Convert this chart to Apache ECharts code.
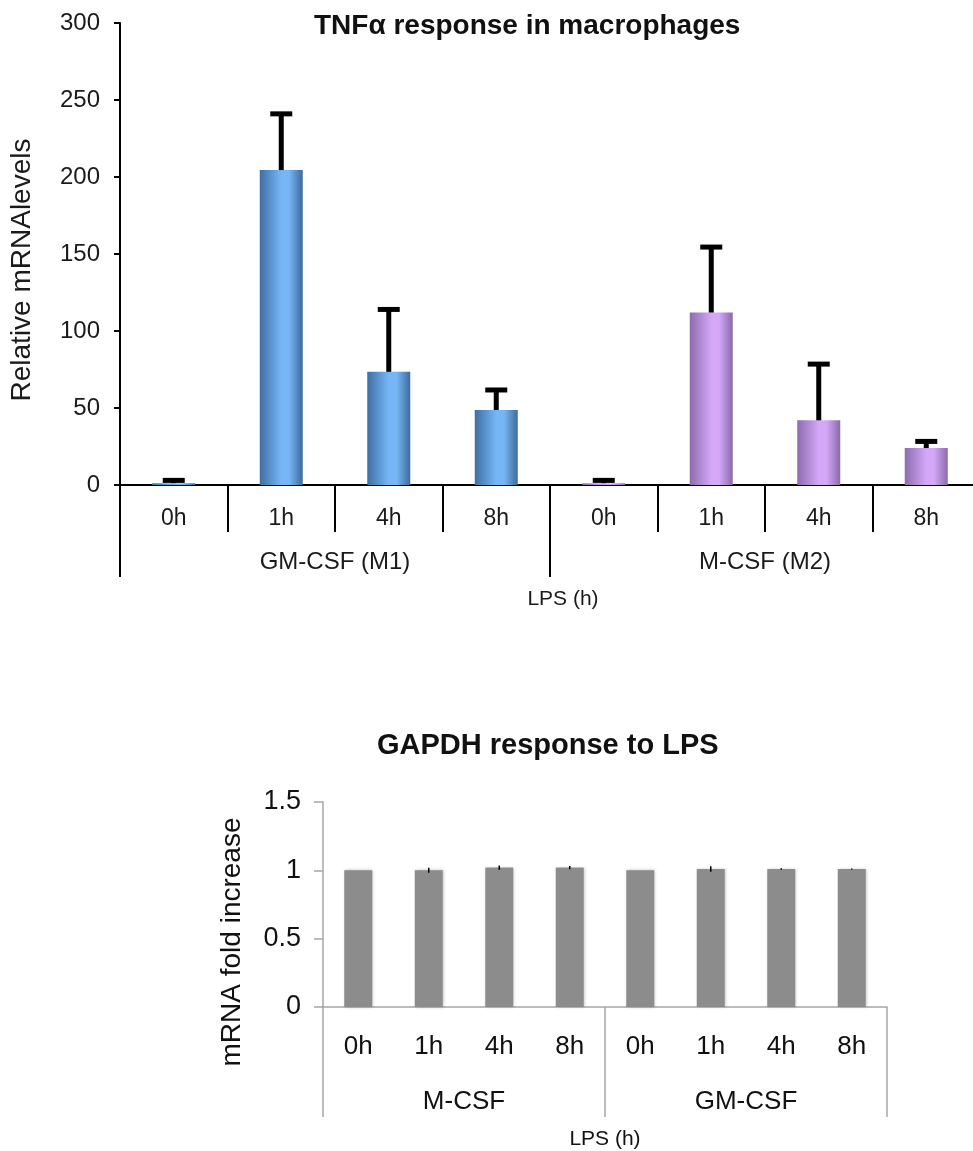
<!DOCTYPE html>
<html>
<head>
<meta charset="utf-8">
<script src="https://cdn.jsdelivr.net/npm/echarts@6/dist/echarts.min.js"></script>
<style>
html,body{margin:0;padding:0;background:#fff;}
#chart{width:973px;height:1151px;}
</style>
</head>
<body>
<div id="chart"></div>
<script>
// ---- Data ----
const tnfCategories = ['0h', '1h', '4h', '8h', '0h', '1h', '4h', '8h'];
const tnfGroups = ['GM-CSF (M1)', 'M-CSF (M2)'];
const tnfMeans = [1.2, 204.5, 73.5, 48.7, 1.2, 112, 42, 24];
const tnfErrors = [1.8, 36.5, 40.5, 13, 1.8, 42.5, 36.5, 4.3];
const tnfTicks = [0, 50, 100, 150, 200, 250, 300];

const gapdhCategories = ['0h', '1h', '4h', '8h', '0h', '1h', '4h', '8h'];
const gapdhGroups = ['M-CSF', 'GM-CSF'];
const gapdhMeans = [1.0, 1.0, 1.02, 1.02, 1.0, 1.01, 1.01, 1.01];
const gapdhErrors = [0, 0.018, 0.015, 0.012, 0, 0.02, 0.006, 0.003];
const gapdhTicks = [0, 0.5, 1, 1.5];

// ---- Styles ----
const FONT = "'Liberation Sans', Arial, Helvetica, sans-serif";
const blueGrad = new echarts.graphic.LinearGradient(0, 0, 1, 0, [
  {offset: 0, color: '#3f6fa3'},
  {offset: 0.5, color: '#76b6f6'},
  {offset: 0.68, color: '#76b6f6'},
  {offset: 1, color: '#3d6b9c'}
]);
const purpleGrad = new echarts.graphic.LinearGradient(0, 0, 1, 0, [
  {offset: 0, color: '#8c6cad'},
  {offset: 0.5, color: '#d4a7f9'},
  {offset: 0.68, color: '#d4a7f9'},
  {offset: 1, color: '#896aa9'}
]);

const tnfErrData = tnfMeans.map((m, i) => [i, m, m + tnfErrors[i]]);
const gapdhErrData = gapdhMeans.map((m, i) => [i, m - gapdhErrors[i], m + gapdhErrors[i]]);

const chart = echarts.init(document.getElementById('chart'), null, {renderer: 'canvas'});

const option = {
  animation: false,
  backgroundColor: '#ffffff',
  title: [
    {
      text: 'TNFα response in macrophages',
      left: 314, top: 12, padding: 0,
      textStyle: {fontFamily: FONT, fontSize: 28, fontWeight: 'bold', color: '#111'}
    },
    {
      text: 'GAPDH response to LPS',
      left: 377, top: 731, padding: 0,
      textStyle: {fontFamily: FONT, fontSize: 29, fontWeight: 'bold', color: '#111'}
    }
  ],
  grid: [
    {left: 120, top: 23, width: 860, height: 462, containLabel: false, outerBoundsMode: 'none'},
    {left: 323, top: 802, width: 564, height: 205, containLabel: false, outerBoundsMode: 'none'}
  ],
  xAxis: [
    {
      gridIndex: 0, type: 'category', data: tnfCategories, position: 'bottom',
      axisLine: {show: true, lineStyle: {color: '#000', width: 2}},
      axisTick: {show: true, length: 47, interval: 0, lineStyle: {color: '#000', width: 2}},
      axisLabel: {fontFamily: FONT, fontSize: 23, margin: 22, color: '#1a1a1a', interval: 0},
      splitLine: {show: false}
    },
    {
      gridIndex: 0, type: 'category', data: tnfGroups, position: 'bottom', offset: 0,
      axisLine: {show: false},
      axisTick: {show: true, length: 92, interval: 0, lineStyle: {color: '#000', width: 2}},
      axisLabel: {fontFamily: FONT, fontSize: 24, margin: 65, color: '#1a1a1a', interval: 0},
      splitLine: {show: false},
      name: 'LPS (h)', nameLocation: 'middle', nameGap: 104,
      nameTextStyle: {fontFamily: FONT, fontSize: 21, color: '#1a1a1a', padding: [0, 0, 0, 26]}
    },
    {
      gridIndex: 1, type: 'category', data: gapdhCategories, position: 'bottom',
      axisLine: {show: true, lineStyle: {color: '#a6a6a6', width: 1.5}},
      axisTick: {show: false},
      axisLabel: {fontFamily: FONT, fontSize: 26, margin: 27, color: '#111', interval: 0},
      splitLine: {show: false}
    },
    {
      gridIndex: 1, type: 'category', data: gapdhGroups, position: 'bottom', offset: 0,
      axisLine: {show: false},
      axisTick: {show: true, length: 110, interval: 0, lineStyle: {color: '#a6a6a6', width: 1.5}},
      axisLabel: {fontFamily: FONT, fontSize: 26, margin: 82, color: '#111', interval: 0},
      splitLine: {show: false},
      name: 'LPS (h)', nameLocation: 'middle', nameGap: 122,
      nameTextStyle: {fontFamily: FONT, fontSize: 21, color: '#111'}
    }
  ],
  yAxis: [
    {
      gridIndex: 0, type: 'value', min: tnfTicks[0], max: tnfTicks[tnfTicks.length - 1], interval: 50,
      axisLine: {show: true, lineStyle: {color: '#000', width: 2}},
      axisTick: {show: true, length: 6, lineStyle: {color: '#000', width: 2}},
      axisLabel: {fontFamily: FONT, fontSize: 24, margin: 20, color: '#1a1a1a'},
      splitLine: {show: false}
    },
    {
      gridIndex: 1, type: 'value', min: gapdhTicks[0], max: gapdhTicks[gapdhTicks.length - 1], interval: 0.5,
      axisLine: {show: true, lineStyle: {color: '#a6a6a6', width: 1.5}},
      axisTick: {show: true, length: 9, lineStyle: {color: '#a6a6a6', width: 1.5}},
      axisLabel: {fontFamily: FONT, fontSize: 27, margin: 22, color: '#111'},
      splitLine: {show: false}
    }
  ],
  graphic: [
    {
      type: 'text', x: 22, y: 270, rotation: Math.PI / 2,
      style: {text: 'Relative mRNAlevels', fontFamily: FONT, fontSize: 28, fill: '#1a1a1a', align: 'center', verticalAlign: 'middle'}
    },
    {
      type: 'text', x: 232, y: 942, rotation: Math.PI / 2,
      style: {text: 'mRNA fold increase', fontFamily: FONT, fontSize: 28, fill: '#111', align: 'center', verticalAlign: 'middle'}
    }
  ],
  series: [
    {
      type: 'bar', xAxisIndex: 0, yAxisIndex: 0, data: tnfMeans, barWidth: 43,
      itemStyle: {color: (p) => p.dataIndex < 4 ? blueGrad : purpleGrad}
    },
    {
      type: 'custom', xAxisIndex: 0, yAxisIndex: 0, data: tnfErrData, z: 5,
      renderItem: (params, api) => {
        const top = api.coord([api.value(0), api.value(2)]);
        const base = api.coord([api.value(0), api.value(1)]);
        const half = 11;
        return {
          type: 'group',
          children: [
            {type: 'line', shape: {x1: base[0], y1: base[1], x2: top[0], y2: top[1]}, style: {stroke: '#000', lineWidth: 5}},
            {type: 'line', shape: {x1: top[0] - half, y1: top[1], x2: top[0] + half, y2: top[1]}, style: {stroke: '#000', lineWidth: 5}}
          ]
        };
      }
    },
    {
      type: 'bar', xAxisIndex: 2, yAxisIndex: 1, data: gapdhMeans, barWidth: 28,
      itemStyle: {color: '#8c8c8c', shadowBlur: 3, shadowColor: 'rgba(0,0,0,0.25)', shadowOffsetX: 1, shadowOffsetY: 0}
    },
    {
      type: 'custom', xAxisIndex: 2, yAxisIndex: 1, data: gapdhErrData, z: 5,
      renderItem: (params, api) => {
        const lo = api.coord([api.value(0), api.value(1)]);
        const hi = api.coord([api.value(0), api.value(2)]);
        return {
          type: 'line', shape: {x1: lo[0], y1: lo[1], x2: hi[0], y2: hi[1]},
          style: {stroke: '#000', lineWidth: 1.5}
        };
      }
    }
  ]
};
chart.setOption(option);
</script>
</body>
</html>
